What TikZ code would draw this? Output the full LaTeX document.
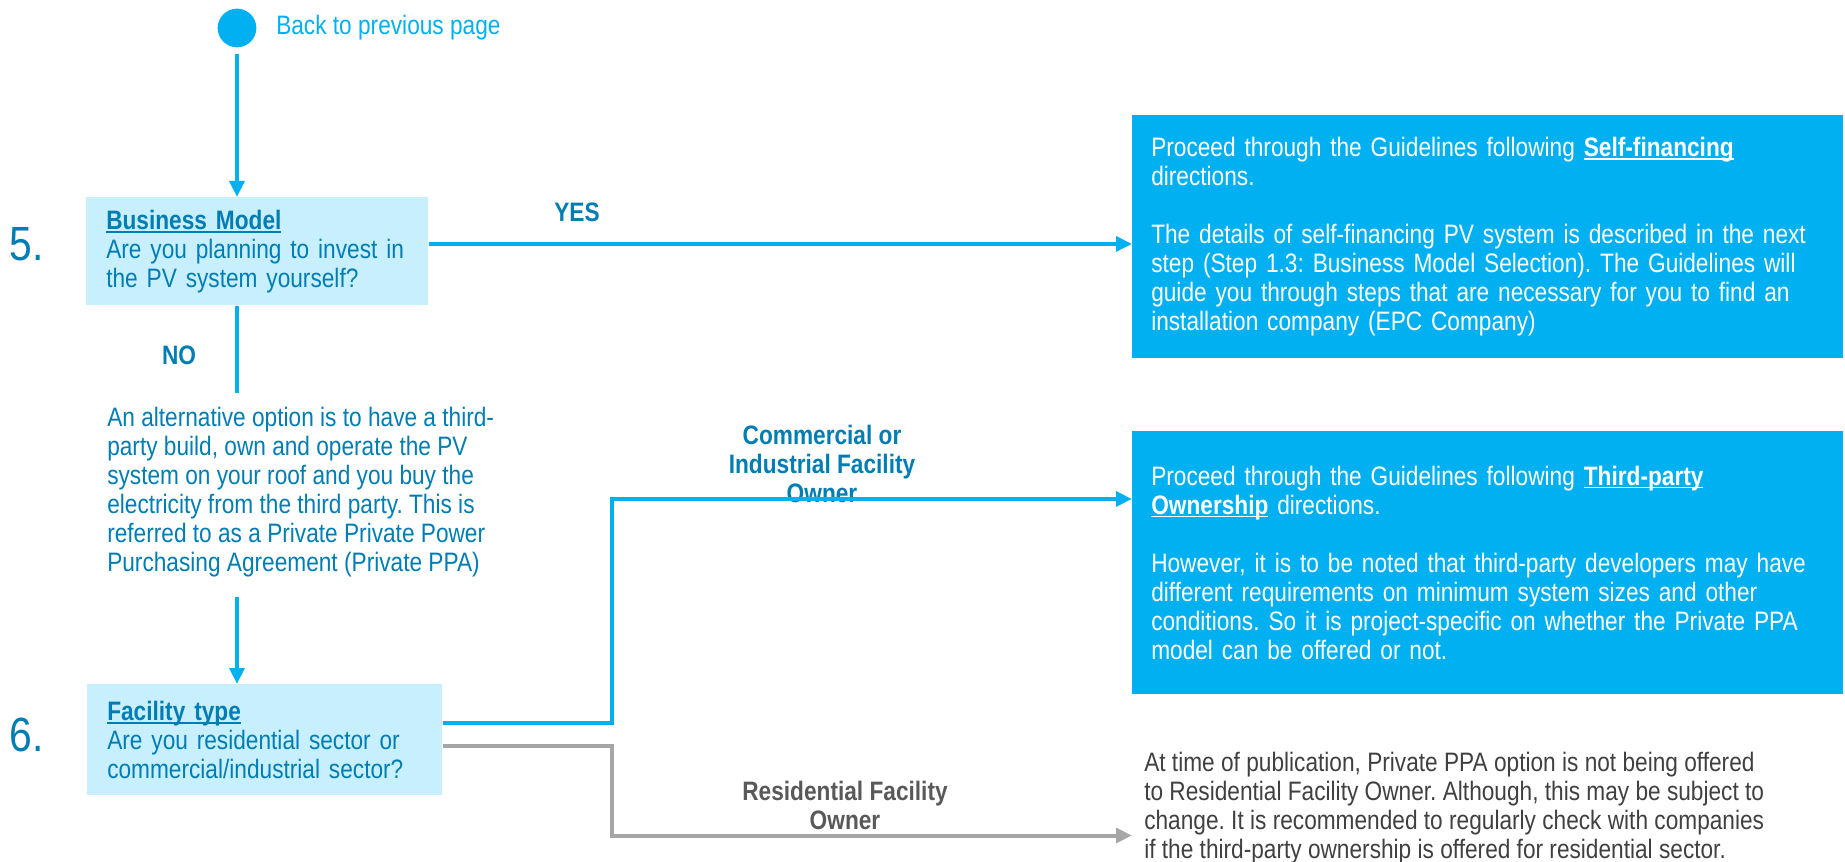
\documentclass[tikz,border=0pt]{standalone}
\usepackage{fontspec}
\setmainfont{Liberation Sans}[FakeStretch=0.85]
\usepackage{xcolor}
\usetikzlibrary{arrows.meta, positioning}

\definecolor{pvblue}{RGB}{0,176,240}
\definecolor{pvdark}{RGB}{0,125,178}
\definecolor{pvpale}{RGB}{200,239,253}
\definecolor{pvgrey}{RGB}{166,166,166}
\definecolor{pvgreytext}{RGB}{89,89,89}
\definecolor{pvnote}{RGB}{64,64,64}

\newcommand{\pvsize}{\fontsize{20pt}{21.75pt}\selectfont\frenchspacing}
\newcommand{\pvbig}{\fontsize{36pt}{38pt}\selectfont}
\newsavebox{\pvulbox}
\newcommand{\pvul}[1]{\leavevmode\sbox{\pvulbox}{#1}\rlap{\rule[-2.6pt]{\wd\pvulbox}{1.3pt}}\usebox{\pvulbox}}

\tikzset{
  pvline/.style={draw=pvblue, line width=3pt},
  pvarrow/.style={pvline, -{Triangle[length=12pt,width=11pt]}},
  greyarrow/.style={draw=pvgrey, line width=3pt, -{Triangle[length=12pt,width=11pt]}},
  qbox/.style={fill=pvpale, anchor=north west, inner xsep=15pt, inner ysep=0pt, align=left, text=pvdark, font=\pvsize},
  gbox/.style={fill=pvblue, anchor=north west, inner xsep=14.25pt, inner ysep=0pt, align=left, text=white, font=\pvsize, text width=504.75pt},
  plain/.style={anchor=west, align=left, inner sep=0pt, font=\pvsize},
  lbl/.style={font=\pvsize\bfseries, text=pvdark, align=center},
  stepno/.style={font=\pvbig, text=pvdark},
}

\begin{document}
\begin{tikzpicture}[x=0.75pt,y=0.75pt,yscale=-1,xscale=1]
\useasboundingbox (0,0) rectangle (1845,862);

%Shape: Circle
\node[circle, fill=pvblue, inner sep=0pt, minimum size=29pt] (start) at (237,28) {};
\node[plain, text=pvblue] (back) at (276,28) {Back to previous page};

%Step 5
\node[stepno] (n5) at (27,244) {5.};
\node[qbox, text width=226.5pt, minimum height=81pt] (bm) at (86,197) {\pvul{\textbf{Business Model}}\\Are you planning to invest in\\the PV system yourself?};
\node[lbl] (yes) at (577,212) {YES};
\node[lbl] (no) at (179,355) {NO};

%Shape: Rectangle
\node[gbox, minimum height=182.25pt] (sf) at (1132,115) {Proceed through the Guidelines following \pvul{\textbf{Self-financing}}\\directions.\\[21.75pt]The details of self-financing PV system is described in the next\\step (Step 1.3: Business Model Selection). The Guidelines will\\guide you through steps that are necessary for you to find an\\installation company (EPC Company)};

%Text
\node[plain, text=pvdark] (alt) at (107,492) {An alternative option is to have a third-\\party build, own and operate the PV\\system on your roof and you buy the\\electricity from the third party. This is\\referred to as a Private Private Power\\Purchasing Agreement (Private PPA)};

%Step 6
\node[stepno] (n6) at (27,735) {6.};
\node[qbox, text width=236.25pt, minimum height=83.25pt] (ft) at (87,684) {\pvul{\textbf{Facility type}}\\Are you residential sector or\\commercial/industrial sector?};

\node[lbl] (com) at (822,464) {Commercial or\\Industrial Facility\\Owner};
\node[lbl, text=pvgreytext] (res) at (845,805) {Residential Facility\\Owner};

%Shape: Rectangle
\node[gbox, minimum height=197.6pt] (tp) at (1132,430.5) {Proceed through the Guidelines following \pvul{\textbf{Third-party}}\\\pvul{\textbf{Ownership}} directions.\\[21.75pt]However, it is to be noted that third-party developers may have\\different requirements on minimum system sizes and other\\conditions. So it is project-specific on whether the Private PPA\\model can be offered or not.};

\node[plain, text=pvnote] (note) at (1144,808.5) {At time of publication, Private PPA option is not being offered\\to Residential Facility Owner. Although, this may be subject to\\change. It is recommended to regularly check with companies\\if the third-party ownership is offered for residential sector.};

%Straight Lines
\coordinate (c1) at (612,499);
\coordinate (c2) at (612,835.5);
\draw[pvarrow, shorten <=4.5pt] (start) -- (start |- bm.north);
\draw[pvarrow] ([yshift=-5.5pt]bm.east) -- ([yshift=-5.5pt]bm.east -| sf.west);
\draw[pvline, shorten >=10pt] (start |- bm.south) -- (start |- alt.north);
\draw[pvarrow, shorten <=15pt] (start |- alt.south) -- (start |- ft.north);
\draw[pvarrow] ([yshift=-12.75pt]ft.east) -| (c1) -- (c1 -| tp.west);
\draw[greyarrow] ([yshift=4.9pt]ft.east) -| (c2) -- (c2 -| tp.west);

\end{tikzpicture}
\end{document}
